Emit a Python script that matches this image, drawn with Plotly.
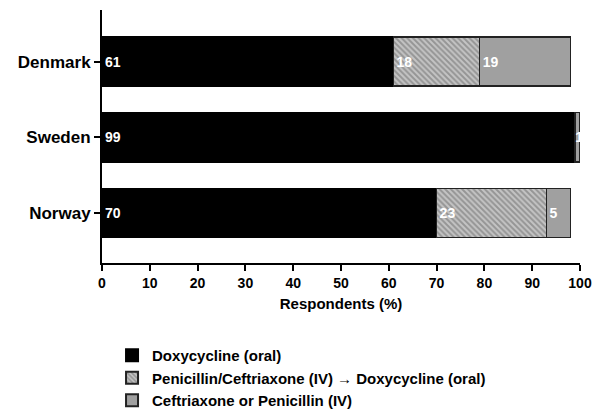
import plotly.graph_objects as go

countries = ["Denmark", "Sweden", "Norway"]
ypos = [2, 1, 0]
doxy = [61, 99, 70]
switch = [18, 0, 23]
iv = [19, 1, 5]
series_names = ["Doxycycline (oral)",
                "Penicillin/Ceftriaxone (IV) \u2192 Doxycycline (oral)",
                "Ceftriaxone or Penicillin (IV)"]
xticks = list(range(0, 101, 10))

FONT = "Liberation Sans, Arial, sans-serif"

def labels(vals):
    return [str(v) if v else "" for v in vals]

label_font = dict(color="white", size=14, family=FONT, weight="bold")

fig = go.Figure()
fig.add_trace(go.Bar(
    y=ypos, x=doxy, orientation="h", name=series_names[0], width=0.65,
    legendgroup="a",
    marker=dict(color="black", line=dict(color="black", width=1.5)),
    text=labels(doxy), textposition="inside", insidetextanchor="start",
    constraintext="none", textfont=label_font,
))
fig.add_trace(go.Bar(
    y=ypos, x=switch, orientation="h", name=series_names[1], width=0.65,
    legendgroup="b",
    marker=dict(color="#bdbdbd", line=dict(color="#222222", width=1.5),
                pattern=dict(shape="\\", fgcolor="#666666", bgcolor="#c4c4c4",
                             size=4, solidity=0.5)),
    text=labels(switch), textposition="inside", insidetextanchor="start",
    constraintext="none", textfont=label_font,
))
fig.add_trace(go.Bar(
    y=ypos, x=iv, orientation="h", name=series_names[2], width=0.65,
    legendgroup="c",
    marker=dict(color="#a0a0a0", line=dict(color="#222222", width=1.5)),
    text=labels(iv), textposition="inside", insidetextanchor="start",
    constraintext="none", textfont=label_font,
))

fig.update_layout(
    barmode="stack",
    width=602, height=412,
    margin=dict(l=94, r=30, t=2, b=157),
    paper_bgcolor="white", plot_bgcolor="white",
    font=dict(family=FONT, color="black", size=12, weight="bold"),
    legend=dict(
        orientation="v", x=0.021, y=-0.30, xanchor="left", yanchor="top",
        font=dict(size=15, family=FONT, color="black", weight="bold"),
        traceorder="normal", tracegroupgap=3, itemsizing="constant",
    ),
    xaxis=dict(
        range=[0, 100], tickvals=xticks, ticktext=[str(t) for t in xticks],
        showline=True, linecolor="black", linewidth=2,
        ticks="outside", ticklen=6, tickwidth=2, tickcolor="black",
        showgrid=False, zeroline=False,
        tickfont=dict(size=14, family=FONT, weight="bold"),
        title=dict(text="Respondents (%)", standoff=9,
                   font=dict(size=15, family=FONT, weight="bold")),
    ),
    yaxis=dict(
        range=[-0.662, 2.682], tickvals=ypos, ticktext=countries,
        showline=True, linecolor="black", linewidth=2,
        ticks="outside", ticklen=6, tickwidth=2, tickcolor="black",
        showgrid=False, zeroline=False,
        tickfont=dict(size=17, family=FONT, weight="bold"),
    ),
)

fig.write_html("out.html")
